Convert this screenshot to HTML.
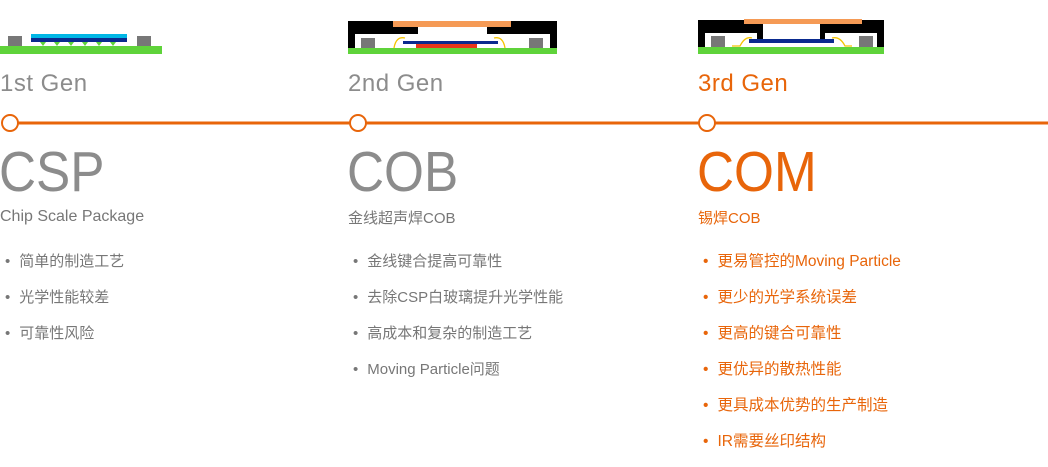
<!DOCTYPE html>
<html><head><meta charset="utf-8"><style>
body{margin:0;width:1048px;height:449px;background:#fff;position:relative;overflow:hidden;font-family:"Liberation Sans","Noto Sans CJK SC",sans-serif}
.a{position:absolute;white-space:nowrap}
.gen{font-size:24px;top:70px;color:#8c8c8c;letter-spacing:0.5px}
.big{font-size:57px;top:140px;color:#8c8c8c;line-height:64px;transform:scaleX(0.9);transform-origin:0 0}
.sub{font-size:16px;top:208px;color:#777}
.o{color:#e8650a!important}
ul{position:absolute;margin:0;padding:0;list-style:none;top:251px;font-size:15px;color:#777}
li{height:36px;line-height:22px}
li:before{content:"•";margin:0 9px 0 5px}
ul.o li{color:#e8650a;font-size:15.5px}
</style></head><body>
<svg class="a" style="left:0;top:0" width="1048" height="60">
<rect x="0" y="46" width="162" height="8" fill="#5fd33a"/>
<rect x="8" y="36" width="14" height="10" fill="#777"/>
<rect x="137" y="36" width="14" height="10" fill="#777"/>
<rect x="31" y="34" width="96" height="4" fill="#00b7e6"/>
<rect x="31" y="38" width="96" height="4" fill="#0a2a8f"/>
<g fill="#5fd33a"><path d="M40 42h6l-3 4z"/><path d="M54 42h6l-3 4z"/><path d="M68 42h6l-3 4z"/><path d="M82 42h6l-3 4z"/><path d="M96 42h6l-3 4z"/><path d="M110 42h6l-3 4z"/></g>
<rect x="348" y="21" width="209" height="27" fill="#000"/>
<rect x="355" y="34" width="195" height="14" fill="#fff"/>
<rect x="418" y="27" width="69" height="8" fill="#fff"/>
<rect x="393" y="21" width="118" height="6" fill="#f59a55"/>
<rect x="348" y="48" width="209" height="6" fill="#5fd33a"/>
<rect x="361" y="38" width="14" height="10" fill="#777"/>
<rect x="529" y="38" width="14" height="10" fill="#777"/>
<rect x="416" y="44" width="61" height="4" fill="#e8361a"/>
<rect x="403" y="41" width="95" height="3" fill="#0a2a8f"/>
<path d="M394 48 Q396 36 405 38 M505 48 Q503 36 494 38" stroke="#f5c400" stroke-width="1.3" fill="none"/>
<rect x="698" y="20" width="186" height="27" fill="#000"/>
<rect x="705" y="33" width="52" height="14" fill="#fff"/>
<rect x="825" y="33" width="52" height="14" fill="#fff"/>
<rect x="763" y="24" width="57" height="23" fill="#fff"/>
<rect x="705" y="43" width="172" height="4" fill="#fff"/>
<rect x="744" y="19" width="118" height="5" fill="#f59a55"/>
<rect x="698" y="47" width="186" height="7" fill="#5fd33a"/>
<rect x="711" y="36" width="14" height="11" fill="#777"/>
<rect x="859" y="36" width="14" height="11" fill="#777"/>
<rect x="749" y="39" width="85" height="4" fill="#0a2a8f"/>
<path d="M732 46 L740 46 Q745 36 752 38 M852 46 L845 46 Q840 36 832 38" stroke="#f5c400" stroke-width="1.3" fill="none"/>
</svg>
<svg class="a" style="left:0;top:110px" width="1048" height="26">
<line x1="10" y1="13" x2="1048" y2="13" stroke="#e8650a" stroke-width="3"/>
<g fill="#fff" stroke="#e8650a" stroke-width="2"><circle cx="10" cy="13" r="8"/><circle cx="358" cy="13" r="8"/><circle cx="707" cy="13" r="8"/></g>
</svg>
<div class="a gen" style="left:0">1st Gen</div>
<div class="a gen" style="left:348px">2nd Gen</div>
<div class="a gen o" style="left:698px">3rd Gen</div>
<div class="a big" style="left:-1px">CSP</div>
<div class="a big" style="left:347px">COB</div>
<div class="a big o" style="left:697px">COM</div>
<div class="a sub" style="left:0">Chip Scale Package</div>
<div class="a sub" style="left:348px;font-size:15px;top:207px">金线超声焊COB</div>
<div class="a sub o" style="left:698px;font-size:15px;top:207px">锡焊COB</div>
<ul style="left:0"><li>简单的制造工艺</li><li>光学性能较差</li><li>可靠性风险</li></ul>
<ul style="left:348px"><li>金线键合提高可靠性</li><li>去除CSP白玻璃提升光学性能</li><li>高成本和复杂的制造工艺</li><li>Moving Particle问题</li></ul>
<ul class="o" style="left:698px"><li>更易管控的Moving Particle</li><li>更少的光学系统误差</li><li>更高的键合可靠性</li><li>更优异的散热性能</li><li>更具成本优势的生产制造</li><li>IR需要丝印结构</li></ul>
</body></html>
